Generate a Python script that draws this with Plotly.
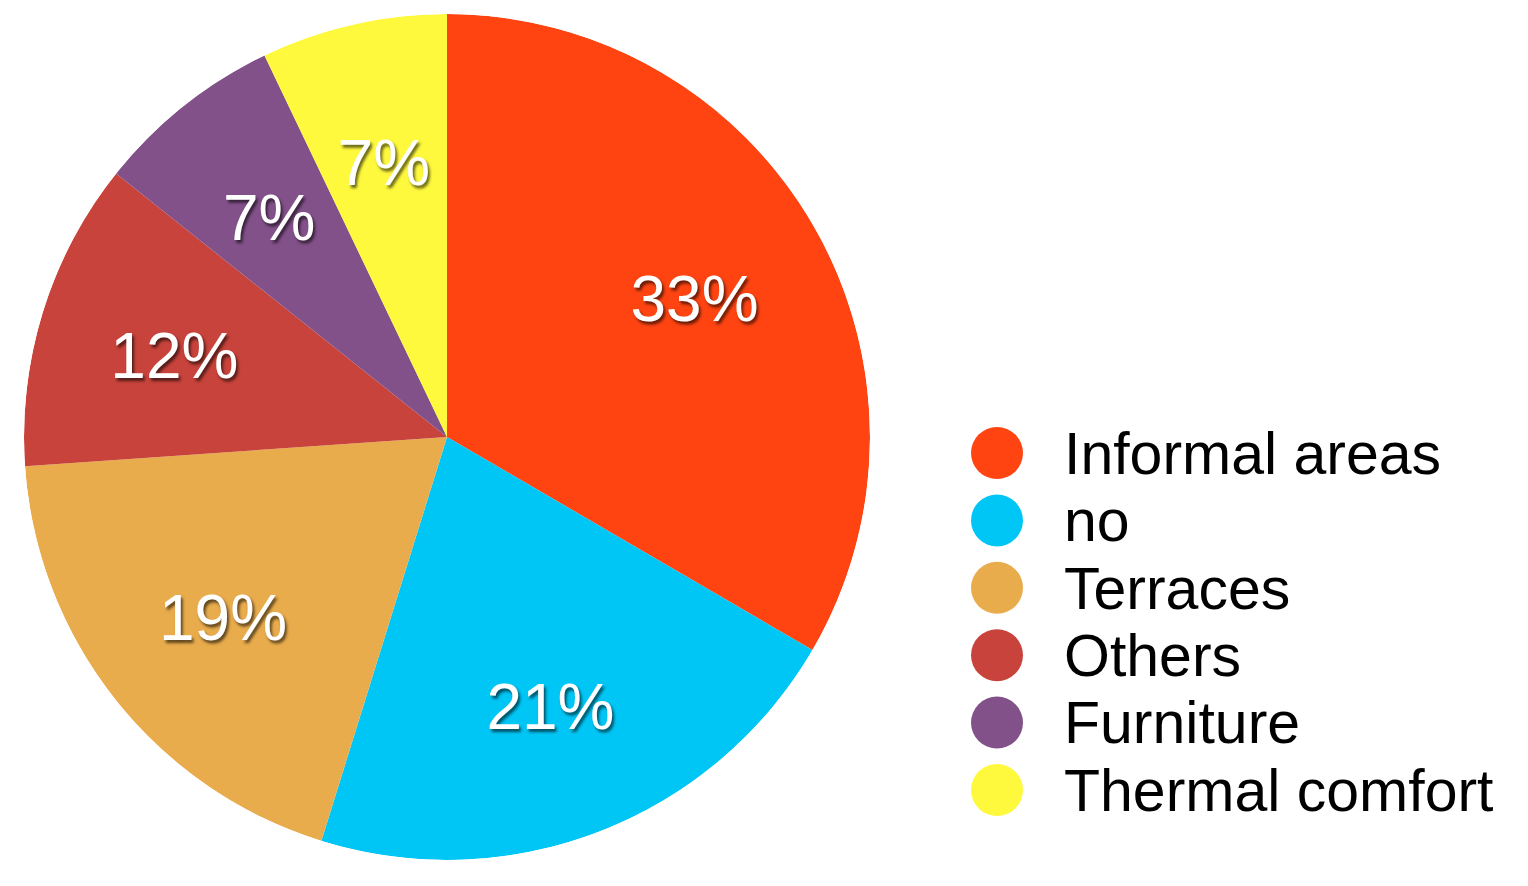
import plotly.graph_objects as go

# Shares (percent of responses)
labels = ["Informal areas", "no", "Terraces", "Others", "Furniture", "Thermal comfort"]
values = [33.4, 21.4, 19.1, 11.8, 7.2, 7.1]
colors = ["#FF4412", "#00C6F6", "#E9AC4C", "#C8433B", "#83518A", "#FFF93D"]

W, H = 1528, 886
FONT = "Liberation Sans, Arial, Helvetica, sans-serif"

# slice geometry (degrees, clockwise from 12 o'clock)
total = sum(values)
widths = [v / total * 360 for v in values]
mids = []
start = 0
for w in widths:
    mids.append(start + w / 2)
    start += w
pct_text = [f"{round(v / total * 100)}%" for v in values]

fig = go.Figure()

# pie slices as polar bars so the labels can sit on the same polar scale
fig.add_trace(
    go.Barpolar(
        r=[1] * len(values),
        theta=mids,
        width=widths,
        marker=dict(color=colors, line=dict(width=0)),
        text=labels,
        hovertemplate="%{text}<extra></extra>",
        showlegend=False,
    )
)
fig.add_trace(
    go.Scatterpolar(
        r=[0.675] * len(values),
        theta=mids,
        mode="text",
        text=pct_text,
        textposition="middle center",
        textfont=dict(
            family=FONT,
            size=64,
            color="white",
            shadow="2px 3px 3px rgba(0,0,0,0.6)",
        ),
        hoverinfo="skip",
        showlegend=False,
        subplot="polar2",
    )
)

# legend drawn as a column of round markers with labels
rows = list(range(len(labels)))
fig.add_trace(
    go.Scatter(
        x=[989] * len(labels),
        y=rows,
        mode="markers",
        marker=dict(color=colors, size=52, symbol="circle", line=dict(width=0)),
        showlegend=False,
        hoverinfo="skip",
    )
)
fig.add_trace(
    go.Scatter(
        x=[1056] * len(labels),
        y=rows,
        mode="text",
        text=labels,
        textposition="middle right",
        textfont=dict(family=FONT, size=59, color="black"),
        showlegend=False,
        hoverinfo="skip",
        yaxis="y2",
    )
)

step = 67.4
fig.update_xaxes(range=[0, W], visible=False, fixedrange=True)
fig.update_layout(
    yaxis=dict(range=[(H - 445) / step, -445 / step], visible=False, fixedrange=True),
    yaxis2=dict(
        range=[(H - 451) / step, -451 / step],
        visible=False,
        fixedrange=True,
        overlaying="y",
    ),
)

pie_x = [16 / W, 862 / W]
pie_y = [1 - 852 / H, 1 - 6 / H]
text_dy = 10 / H  # labels sit a little lower than the slice midpoints

fig.update_layout(
    width=W,
    height=H,
    margin=dict(l=0, r=0, t=0, b=0),
    paper_bgcolor="white",
    plot_bgcolor="rgba(0,0,0,0)",
    polar=dict(
        domain=dict(x=pie_x, y=pie_y),
        bgcolor="rgba(0,0,0,0)",
        angularaxis=dict(direction="clockwise", rotation=90, visible=False),
        radialaxis=dict(range=[0, 1], visible=False),
    ),
    polar2=dict(
        domain=dict(x=pie_x, y=[pie_y[0] - text_dy, pie_y[1] - text_dy]),
        bgcolor="rgba(0,0,0,0)",
        angularaxis=dict(direction="clockwise", rotation=90, visible=False),
        radialaxis=dict(range=[0, 1], visible=False),
    ),
)

fig.write_html("out.html")
